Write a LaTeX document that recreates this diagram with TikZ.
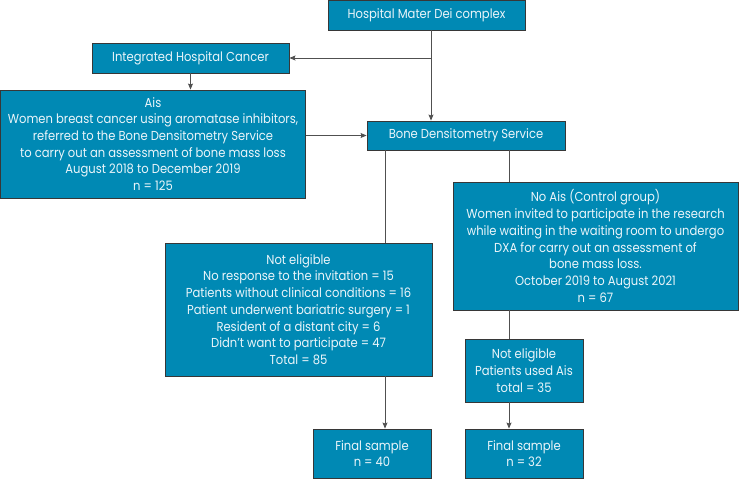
\documentclass[tikz,border=0pt]{standalone}
\usepackage{fontspec}
\setmainfont{Poppins}[FakeStretch=0.89]
\usetikzlibrary{arrows.meta,calc}
\definecolor{boxfill}{RGB}{0,137,180}
\definecolor{boxline}{RGB}{55,55,55}
\definecolor{txt}{RGB}{235,245,250}
\definecolor{conn}{RGB}{80,80,80}
\begin{document}
\begin{tikzpicture}[x=1pt,y=-1pt,
  box/.style={draw=boxline,line width=0.9pt,fill=boxfill,text=txt,inner sep=0pt,align=center,
    font=\fontsize{13}{16.7}\selectfont},
  conline/.style={draw=conn,line width=0.8pt},
  arr/.style={conline,-{Stealth[length=6pt,width=5pt,inset=1pt]}}]
\useasboundingbox (0,0) rectangle (739,479);
\node[box,minimum width=197pt,minimum height=30pt] (hosp) at (426.5,15) {Hospital Mater Dei complex};
\node[box,minimum width=197pt,minimum height=30pt] (integ) at (190.5,58) {Integrated Hospital Cancer};
\node[box,minimum width=305pt,minimum height=108pt] (ais) at (153,144) {Ais\\Women breast cancer using aromatase inhibitors,\\referred to the Bone Densitometry Service\\to carry out an assessment of bone mass loss\\August 2018 to December 2019\\n = 125};
\node[box,minimum width=198pt,minimum height=29pt] (bone) at (466,135.5) {Bone Densitometry Service};
\node[box,minimum width=285pt,minimum height=128pt] (noais) at (595.5,246) {No Ais (Control group)\\Women invited to participate in the research\\while waiting in the waiting room to undergo\\DXA for carry out an assessment of\\bone mass loss.\\October 2019 to August 2021\\n = 67};
\node[box,minimum width=267pt,minimum height=133pt] (ne1) at (298.5,309.5) {Not eligible\\No response to the invitation = 15\\Patients without clinical conditions = 16\\Patient underwent bariatric surgery = 1\\Resident of a distant city = 6\\Didn't want to participate = 47\\Total = 85};
\node[box,minimum width=118pt,minimum height=63pt] (ne2) at (524,370.5) {Not eligible\\Patients used Ais\\total = 35};
\node[box,minimum width=118pt,minimum height=49pt] (fs1) at (372,453.5) {Final sample\\n = 40};
\node[box,minimum width=118pt,minimum height=49pt] (fs2) at (524,453.5) {Final sample\\n = 32};
\coordinate (j) at (431,58);
\coordinate (L) at (385,0);
\coordinate (R) at (509,0);
\draw[conline] (hosp.south -| j) -- (j);
\draw[arr] (j) -- (integ.east);
\draw[arr] (j) -- (j |- bone.north);
\draw[arr] (integ.south) -- (ais.north -| integ.south);
\draw[arr] (ais.east |- bone.west) -- (bone.west);
\draw[conline] (bone.south -| L) -- (ne1.north -| L);
\draw[arr] (ne1.south -| L) -- (fs1.north -| L);
\draw[conline] (bone.south -| R) -- (noais.north -| R);
\draw[conline] (noais.south -| R) -- (ne2.north -| R);
\draw[arr] (ne2.south -| R) -- (fs2.north -| R);
\end{tikzpicture}
\end{document}
